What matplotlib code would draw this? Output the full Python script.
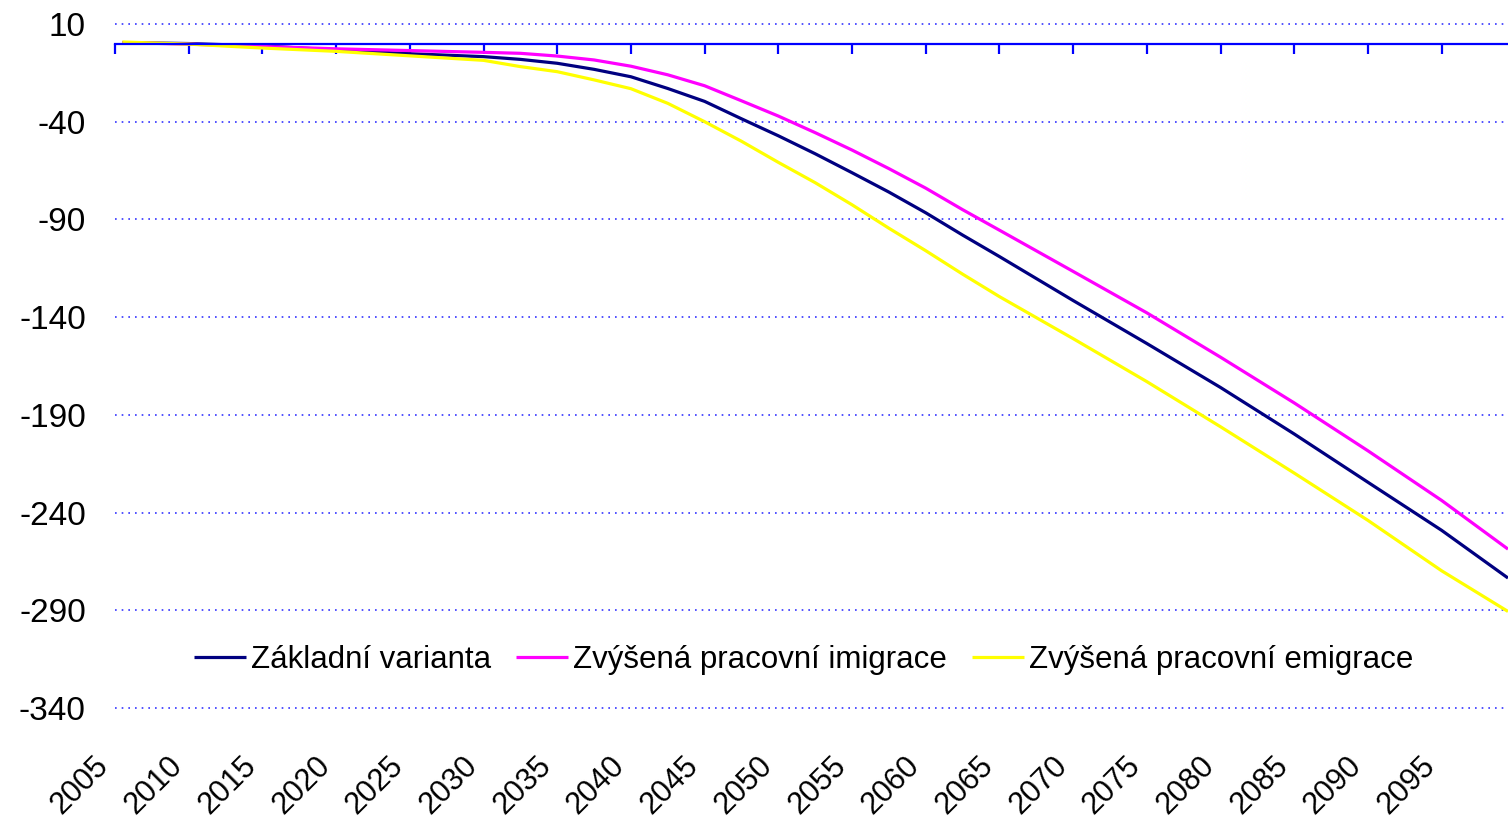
import matplotlib
matplotlib.use("Agg")
import matplotlib.pyplot as plt

plt.rcParams['font.family'] = ['Liberation Sans', 'DejaVu Sans']

years = [2005.5, 2010, 2015, 2020, 2025, 2030, 2032.5, 2035, 2037.5, 2040,
         2042.5, 2045, 2047.5, 2050, 2052.5, 2055, 2057.5, 2060, 2062.5, 2065,
         2070, 2075, 2080, 2085, 2090, 2095, 2099.5]

zakladni = [0.5, 0.0, -1.2, -3.3, -5.2, -6.7, -8.1, -10.1, -13.2, -17.0,
            -23.0, -29.6, -38.5, -47.2, -56.4, -66.1, -76.0, -86.6, -98.0, -109.0,
            -131.5, -153.5, -176.0, -199.8, -224.5, -249.1, -273.5]
imigrace = [0.5, -0.3, -1.5, -2.7, -3.6, -4.5, -5.0, -6.4, -8.4, -11.6,
            -16.0, -21.6, -29.3, -37.1, -45.6, -54.5, -64.0, -74.0, -85.0, -95.5,
            -116.6, -137.8, -160.5, -183.9, -208.4, -233.8, -258.7]
emigrace = [0.8, -0.3, -2.3, -4.0, -6.3, -8.6, -11.8, -14.4, -18.6, -23.1,
            -30.6, -40.0, -50.0, -60.8, -71.2, -82.5, -94.5, -106.0, -118.0, -129.5,
            -151.0, -173.0, -196.1, -219.8, -244.0, -269.8, -290.6]

series_names = ["Základní varianta", "Zvýšená pracovní imigrace", "Zvýšená pracovní emigrace"]
series_colors = ["#000080", "#FF00FF", "#FFFF00"]

y_ticks = [10, -40, -90, -140, -190, -240, -290, -340]
x_ticks = list(range(2005, 2100, 5))

fig = plt.figure(figsize=(15.08, 8.22), dpi=100)
ax = fig.add_axes([115 / 1508, 1 - 708 / 822, 1 - 115 / 1508, (708 - 24) / 822])

for vals, name, col in zip([zakladni, imigrace, emigrace], series_names, series_colors):
    ax.plot(years, vals, color=col, lw=2.3, label=name, solid_capstyle='butt')

ax.set_xlim(2005, 2099.5)
ax.set_ylim(-340, 10)

# y ticks and dotted grid lines
ax.set_yticks(y_ticks)
ax.set_yticklabels([str(v) for v in y_ticks], fontsize=24)
ax.yaxis.grid(True, color='#3333FF', lw=1.2, linestyle=(0, (1, 3)))
for gl in ax.yaxis.get_gridlines():
    gl.set_clip_on(False)
ax.tick_params(axis='y', length=0, pad=21)

# x axis drawn at zero
for s in ['top', 'right', 'left']:
    ax.spines[s].set_visible(False)
ax.spines['bottom'].set_position(('data', 0))
ax.spines['bottom'].set_color('#0000FF')
ax.spines['bottom'].set_linewidth(1.6)
ax.set_xticks(x_ticks)
ax.tick_params(axis='x', direction='out', length=7.5, width=1.6, color='#0000FF',
               labelbottom=False)

# year labels at the bottom of the plot area
sec = ax.secondary_xaxis('bottom')
sec.set_xticks(x_ticks)
sec.set_xticklabels([str(v) for v in x_ticks], fontsize=22, rotation=45,
                    ha='right', va='top')
sec.tick_params(axis='x', length=0, pad=31)
sec.spines['bottom'].set_visible(False)

ax.legend(loc='center', bbox_to_anchor=(0.4946, 0.070), ncol=3, frameon=False,
          fontsize=22.5, handlelength=1.65, handletextpad=0.17, columnspacing=0.8,
          borderaxespad=0)

fig.savefig("out.png", dpi=100)
